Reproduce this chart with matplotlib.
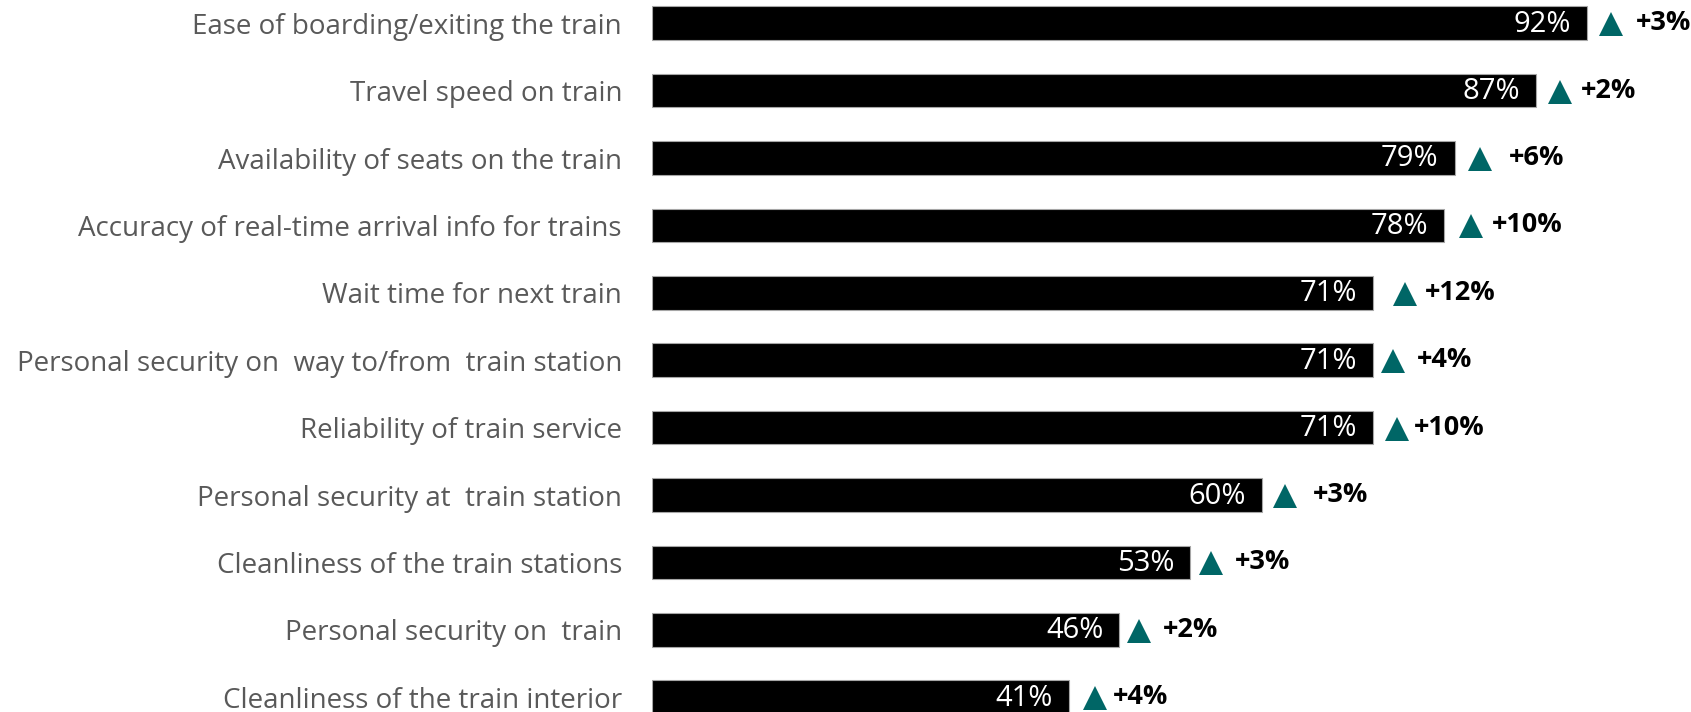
import matplotlib
matplotlib.use("Agg")
import matplotlib.pyplot as plt
import matplotlib.transforms as mtransforms

# Share of riders satisfied with each aspect of train service, and change since last survey
categories = [
    "Ease of boarding/exiting the train",
    "Travel speed on train",
    "Availability of seats on the train",
    "Accuracy of real-time arrival info for trains",
    "Wait time for next train",
    "Personal security on  way to/from  train station",
    "Reliability of train service",
    "Personal security at  train station",
    "Cleanliness of the train stations",
    "Personal security on  train",
    "Cleanliness of the train interior",
]
satisfied = [92, 87, 79, 78, 71, 71, 71, 60, 53, 46, 41]
change = [3, 2, 6, 10, 12, 4, 10, 3, 3, 2, 4]

# Hand-tuned spacing (in pixels) of the change markers and their labels
marker_gap = [24, 24, 25, 27, 32, 20, 24, 23, 21, 20, 26]
label_gap = [25, 21, 29, 20, 20, 24, 17, 28, 23, 24, 18]

TEAL = "#006666"
GREY_TEXT = "#595959"
FONT = "Open Sans"

W, H = 1691, 712
fig = plt.figure(figsize=(W / 100, H / 100), dpi=100)
left_px = 652
ax = fig.add_axes([left_px / W, 0, 1 - left_px / W, 1])

px_per_pct = 10.16
row_pitch = 67.4
first_row = 23.2
ax.set_xlim(0, (W - left_px) / px_per_pct)
ax.set_ylim((H - first_row) / row_pitch, -first_row / row_pitch)

ypos = list(range(len(categories)))
ax.barh(ypos, satisfied, height=0.5, color="black",
        edgecolor="#a6a6a6", linewidth=0.8)

for i, (v, c) in enumerate(zip(satisfied, change)):
    ax.annotate(f"{v}%", xy=(v, i), xytext=(-16, -1), textcoords="offset pixels",
                ha="right", va="center", color="white", fontsize=21,
                family=FONT)
    tri_tr = mtransforms.offset_copy(ax.transData, fig=fig,
                                     x=marker_gap[i], y=-1, units="dots")
    ax.plot([v], [i], marker="^", markersize=17.5, color=TEAL,
            markeredgewidth=0, transform=tri_tr, clip_on=False)
    txt_tr = mtransforms.offset_copy(ax.transData, fig=fig,
                                     x=marker_gap[i] + label_gap[i], y=0,
                                     units="dots")
    ax.text(v, i, f"+{c}%", transform=txt_tr, ha="left", va="center",
            fontsize=19.5, fontweight="bold", color="black", family=FONT,
            clip_on=False)

ax.set_yticks(ypos)
ax.set_yticklabels(categories, fontsize=20, color=GREY_TEXT, family=FONT)
ax.tick_params(axis="y", length=0, pad=21.6)
ax.set_xticks([])
for s in ax.spines.values():
    s.set_visible(False)

fig.savefig("out.png", dpi=100)
